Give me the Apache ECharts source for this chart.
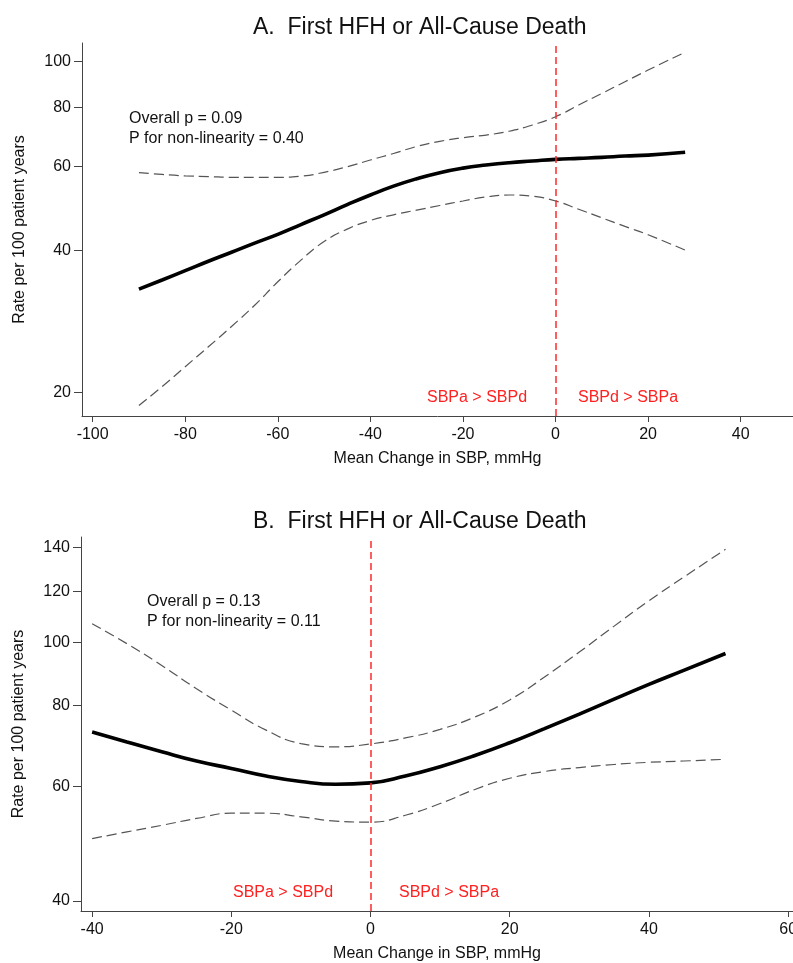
<!DOCTYPE html>
<html>
<head>
<meta charset="utf-8">
<title>First HFH or All-Cause Death</title>
<script src="https://cdn.jsdelivr.net/npm/echarts@6.0.0/dist/echarts.min.js"></script>
<style>
  html, body { margin: 0; padding: 0; background: #fff; }
  #chart { width: 793px; height: 963px; }
</style>
</head>
<body>
<div id="chart"></div>
<script>
// Panel A: change in SBP (x) vs rate per 100 patient years
var xA = [-90, -85, -80, -75, -70, -65, -60, -55, -50, -45, -40, -35, -30, -25, -20, -15, -10, -5, 0, 5, 10, 15, 20, 28]
var fitA = [33.1, 34.6, 36.2, 37.9, 39.6, 41.4, 43.2, 45.3, 47.5, 49.9, 52.3, 54.6, 56.6, 58.3, 59.6, 60.5, 61.2, 61.7, 62.2, 62.5, 62.8, 63.2, 63.5, 64.4]
var upperA = [58.3, 57.8, 57.4, 57.2, 57.0, 57.0, 57.0, 57.3, 58.4, 60.0, 62.0, 64.0, 66.2, 67.9, 69.1, 70.0, 71.3, 73.5, 76.5, 81.0, 85.7, 90.7, 96.0, 104.7]
var lowerA = [18.8, 20.6, 22.7, 25.0, 27.6, 30.6, 34.3, 38.1, 41.7, 44.3, 46.2, 47.5, 48.6, 49.7, 50.8, 51.8, 52.3, 52.0, 50.8, 48.8, 46.8, 44.9, 43.1, 40.0]
var xTicksA = [-100, -80, -60, -40, -20, 0, 20, 40]
var yTicksA = [20, 40, 60, 80, 100]

// Panel B
var xB = [-40, -35, -30, -25, -20, -15, -10, -5, 0, 5, 10, 15, 20, 25, 30, 35, 40, 45, 51]
var fitB = [72.8, 70.3, 67.9, 65.7, 64.0, 62.3, 61.1, 60.5, 60.8, 62.3, 64.4, 67.0, 70.1, 73.7, 77.6, 81.8, 86.2, 90.6, 96.2]
var upperB = [106.9, 99.6, 92.2, 84.9, 78.7, 73.3, 69.9, 69.1, 69.8, 71.3, 73.5, 76.8, 81.6, 88.5, 96.7, 106.0, 116.0, 126.1, 139.2]
var lowerB = [49.9, 51.1, 52.3, 53.6, 54.6, 54.6, 53.9, 53.1, 52.9, 54.2, 56.5, 59.4, 61.8, 63.3, 64.2, 64.9, 65.4, 65.7, 66.1]
var xTicksB = [-40, -20, 0, 20, 40, 60]
var yTicksB = [40, 60, 80, 100, 120, 140]

var FONT = "'Liberation Sans', Arial, Helvetica, sans-serif"

// y axes are logarithmic: plot ln(rate) on a value axis, label with the rate
function logPairs(xs, ys) {
  return xs.map(function(x, i) { return [x, Math.log(ys[i])] })
}

function xAxisOpt(idx, min, max, ticks) {
  return {
    type: 'value',
    gridIndex: idx,
    min: min,
    max: max,
    name: 'Mean Change in SBP, mmHg',
    nameLocation: 'middle',
    nameGap: 35,
    nameTextStyle: { color: '#111', fontSize: 16, fontFamily: FONT },
    axisLine: { onZero: false, lineStyle: { color: '#444', width: 1 } },
    axisTick: { customValues: ticks, length: 6, lineStyle: { color: '#444' } },
    axisLabel: { customValues: ticks, margin: 11, color: '#111', fontSize: 16, fontFamily: FONT },
    splitLine: { show: false }
  }
}

function yAxisOpt(idx, min, max, ticks) {
  var logTicks = ticks.map(Math.log)
  return {
    type: 'value',
    gridIndex: idx,
    min: Math.log(min),
    max: Math.log(max),
    name: 'Rate per 100 patient years',
    nameLocation: 'middle',
    nameGap: 54,
    nameTextStyle: { color: '#111', fontSize: 16, fontFamily: FONT },
    axisLine: { show: true, onZero: false, lineStyle: { color: '#444', width: 1 } },
    axisTick: { show: true, customValues: logTicks, length: 8, lineStyle: { color: '#444' } },
    axisLabel: {
      customValues: logTicks,
      margin: 11,
      color: '#111',
      fontSize: 16,
      fontFamily: FONT,
      formatter: function(v) { return Math.round(Math.exp(v)) }
    },
    splitLine: { show: false }
  }
}

function ciSeries(idx, xs, ys) {
  return {
    type: 'line',
    xAxisIndex: idx,
    yAxisIndex: idx,
    data: logPairs(xs, ys),
    smooth: 0.5,
    symbol: 'none',
    silent: true,
    lineStyle: { color: '#555', width: 1.2, type: [10, 5] },
    z: 3
  }
}

function fitSeries(idx, xs, ys) {
  return {
    type: 'line',
    xAxisIndex: idx,
    yAxisIndex: idx,
    data: logPairs(xs, ys),
    smooth: 0.5,
    symbol: 'none',
    silent: true,
    lineStyle: { color: '#000', width: 3.6 },
    z: 4,
    markLine: {
      silent: true,
      symbol: ['none', 'none'],
      label: { show: false },
      lineStyle: { color: '#ff2a2a', width: 1.5, type: [7, 4] },
      data: [{ xAxis: 0 }]
    }
  }
}

function note(left, top, text, color) {
  return {
    type: 'text',
    left: left,
    top: top,
    style: { text: text, fill: color, fontSize: 16, fontFamily: FONT, lineHeight: 20.5 }
  }
}

var chart = echarts.init(document.getElementById('chart'), null, { renderer: 'canvas' })
chart.setOption({
  backgroundColor: '#fff',
  animation: false,
  title: [
    {
      text: 'A.  First HFH or All-Cause Death',
      left: 248,
      top: 11,
      textStyle: { color: '#111', fontSize: 23, fontWeight: 'normal', fontFamily: FONT }
    },
    {
      text: 'B.  First HFH or All-Cause Death',
      left: 248,
      top: 505,
      textStyle: { color: '#111', fontSize: 23, fontWeight: 'normal', fontFamily: FONT }
    }
  ],
  grid: [
    { left: 82, top: 43, width: 711, height: 373, containLabel: false, outerBoundsMode: 'none' },
    { left: 81, top: 537, width: 712, height: 374, containLabel: false, outerBoundsMode: 'none' }
  ],
  xAxis: [
    xAxisOpt(0, -102.3, 51.3, xTicksA),
    xAxisOpt(1, -41.6, 60.7, xTicksB)
  ],
  yAxis: [
    yAxisOpt(0, 17.86, 109.5, yTicksA),
    yAxisOpt(1, 38.6, 145.4, yTicksB)
  ],
  graphic: [
    note(129, 108, 'Overall p = 0.09\nP for non-linearity = 0.40', '#111'),
    note(427, 387, 'SBPa > SBPd', '#ff2020'),
    note(578, 387, 'SBPd > SBPa', '#ff2020'),
    note(147, 591, 'Overall p = 0.13\nP for non-linearity = 0.11', '#111'),
    note(233, 882, 'SBPa > SBPd', '#ff2020'),
    note(399, 882, 'SBPd > SBPa', '#ff2020')
  ],
  series: [
    ciSeries(0, xA, upperA),
    ciSeries(0, xA, lowerA),
    fitSeries(0, xA, fitA),
    ciSeries(1, xB, upperB),
    ciSeries(1, xB, lowerB),
    fitSeries(1, xB, fitB)
  ]
})
</script>
</body>
</html>
